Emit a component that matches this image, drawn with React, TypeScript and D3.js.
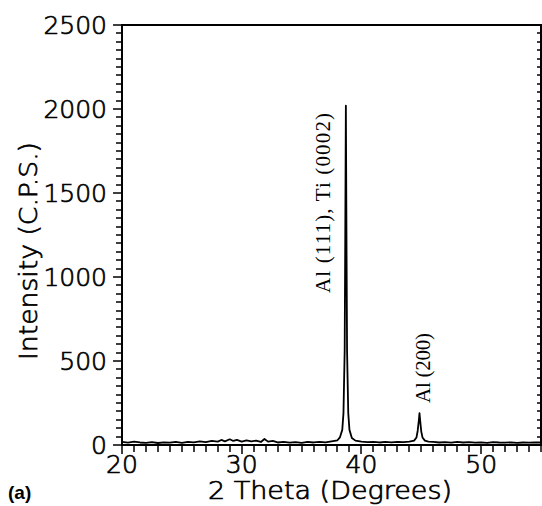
import React, { useEffect, useRef } from 'react'
import { select, scaleLinear, line, range } from 'd3'

// XRD scan: [2 theta (deg), intensity (c.p.s.)]
const scan: [number, number][] = [
	[20, 18], [20.5, 14], [21, 20], [21.5, 15], [22, 13], [22.5, 17], [23, 12], [23.5, 16],
	[24, 14], [24.5, 18], [25, 13], [25.5, 19], [26, 16], [26.5, 21], [27, 17], [27.5, 24],
	[28, 20], [28.3, 30], [28.6, 22], [29, 34], [29.3, 24], [29.6, 30], [30, 20], [30.4, 28],
	[30.8, 22], [31.2, 26], [31.6, 18], [31.9, 36], [32.2, 20], [32.6, 24], [33, 15], [33.5, 18],
	[34, 14], [34.5, 17], [35, 13], [35.5, 18], [36, 15], [36.5, 19], [37, 16], [37.5, 22],
	[38, 28], [38.2, 45], [38.4, 90], [38.5, 190], [38.6, 560], [38.65, 1250], [38.7, 2020],
	[38.75, 1250], [38.8, 560], [38.9, 190], [39, 90], [39.2, 42], [39.5, 26], [40, 20],
	[40.5, 17], [41, 19], [41.5, 15], [42, 18], [42.5, 16], [43, 19], [43.5, 17], [44, 20],
	[44.4, 26], [44.6, 45], [44.7, 85], [44.8, 150], [44.85, 190], [44.9, 150], [45, 80],
	[45.1, 45], [45.3, 26], [45.6, 20], [46, 18], [46.5, 15], [47, 17], [47.5, 14], [48, 18],
	[48.5, 15], [49, 17], [49.5, 14], [50, 16], [50.5, 13], [51, 17], [51.5, 15], [52, 14],
	[52.5, 16], [53, 13], [53.5, 15], [54, 14], [54.5, 16], [55, 15],
]

// peak annotations: text, anchor angle, intensity where the text starts
const peakLabels = ['Al (111), Ti (0002)', 'Al (200)']
const peakLabelAngle = [37.35, 45.75]
const peakLabelStart = [905, 250]

const xTicks = [20, 30, 40, 50]
const yTicks = [0, 500, 1000, 1500, 2000, 2500]

const W = 542
const H = 506
const m = { left: 122, top: 25, right: 541, bottom: 445 }

function App() {
	const svgRef = useRef<SVGSVGElement>(null)

	useEffect(() => {
		const svg = select(svgRef.current)
		svg.selectAll('*').remove()

		const x = scaleLinear().domain([20, 55]).range([m.left, m.right])
		const y = scaleLinear().domain([0, 2500]).range([m.bottom, m.top])

		// thin geometric lettering: extra light face, thickened a little with a stroke
		const sans = 'DejaVu Sans, sans-serif'
		const thin = (s: any) => s
			.attr('font-family', sans)
			.attr('font-weight', 200)
			.attr('fill', '#000')
			.attr('stroke', '#000')
			.attr('stroke-width', 0.7)

		// frame
		svg.append('rect')
			.attr('x', m.left).attr('y', m.top)
			.attr('width', m.right - m.left).attr('height', m.bottom - m.top)
			.attr('fill', 'none').attr('stroke', '#000').attr('stroke-width', 2)

		// tick marks as one path
		const xMinor = range(20, 56, 1)
		const yMinor = range(0, 2501, 50)
		const xd = xMinor.map(d => `M${Math.round(x(d))},${m.bottom}V${m.bottom + (d % 10 === 0 ? 9 : 7)}`).join('')
		const yd = yMinor.map(d => `M${m.left - (d % 500 === 0 ? 9 : 6)},${Math.round(y(d))}H${m.left}`).join('')
		const rd = yMinor.map(d => `M${m.right - 4},${Math.round(y(d))}H${m.right}`).join('')
		svg.append('path')
			.attr('d', xd + yd + rd)
			.attr('fill', 'none')
			.attr('stroke', '#000')
			.attr('stroke-width', 1.5)

		svg.selectAll('.xl')
			.data(xTicks)
			.join('text')
			.attr('class', 'xl')
			.attr('x', d => x(d)).attr('y', 473)
			.attr('text-anchor', 'middle')
			.attr('font-size', 25)
			.call(thin)
			.text(d => String(d))

		svg.selectAll('.yl')
			.data(yTicks)
			.join('text')
			.attr('class', 'yl')
			.attr('x', 107).attr('y', d => y(d))
			.attr('dy', '0.36em')
			.attr('text-anchor', 'end')
			.attr('font-size', 25)
			.call(thin)
			.text(d => String(d))

		// scan trace
		const path = line<[number, number]>().x(d => x(d[0])).y(d => y(d[1]))
		svg.append('path')
			.datum(scan)
			.attr('d', path)
			.attr('fill', 'none')
			.attr('stroke', '#000')
			.attr('stroke-width', 1.8)
			.attr('stroke-linejoin', 'round')

		// peak labels
		svg.selectAll('.peak')
			.data(peakLabels)
			.join('text')
			.attr('class', 'peak')
			.attr('transform', (d, i) => `translate(${x(peakLabelAngle[i])},${y(peakLabelStart[i])}) rotate(-90)`)
			.attr('font-family', 'Liberation Serif, Times New Roman, serif')
			.attr('font-size', 21)
			.attr('fill', '#000')
			.attr('textLength', (d, i) => (i === 0 ? 180 : 70))
			.attr('lengthAdjust', 'spacing')
			.text(d => d)

		// axis titles
		svg.append('text')
			.attr('x', 208).attr('y', 499)
			.attr('font-size', 24)
			.attr('textLength', 244).attr('lengthAdjust', 'spacingAndGlyphs')
			.call(thin)
			.text('2 Theta  (Degrees)')
		svg.append('text')
			.attr('transform', 'translate(37,360) rotate(-90)')
			.attr('font-size', 24)
			.attr('textLength', 218).attr('lengthAdjust', 'spacingAndGlyphs')
			.call(thin)
			.text('Intensity  (C.P.S.)')
		svg.append('text')
			.attr('x', 8).attr('y', 499)
			.attr('font-family', 'Liberation Sans, Arial, sans-serif')
			.attr('font-size', 19).attr('font-weight', 'bold')
			.text('(a)')
	}, [])

	return (
		<svg ref={svgRef} width={W} height={H}
			style={{ position: 'absolute', left: 0, top: 0, background: '#fff' }} />
	)
}

export default App
